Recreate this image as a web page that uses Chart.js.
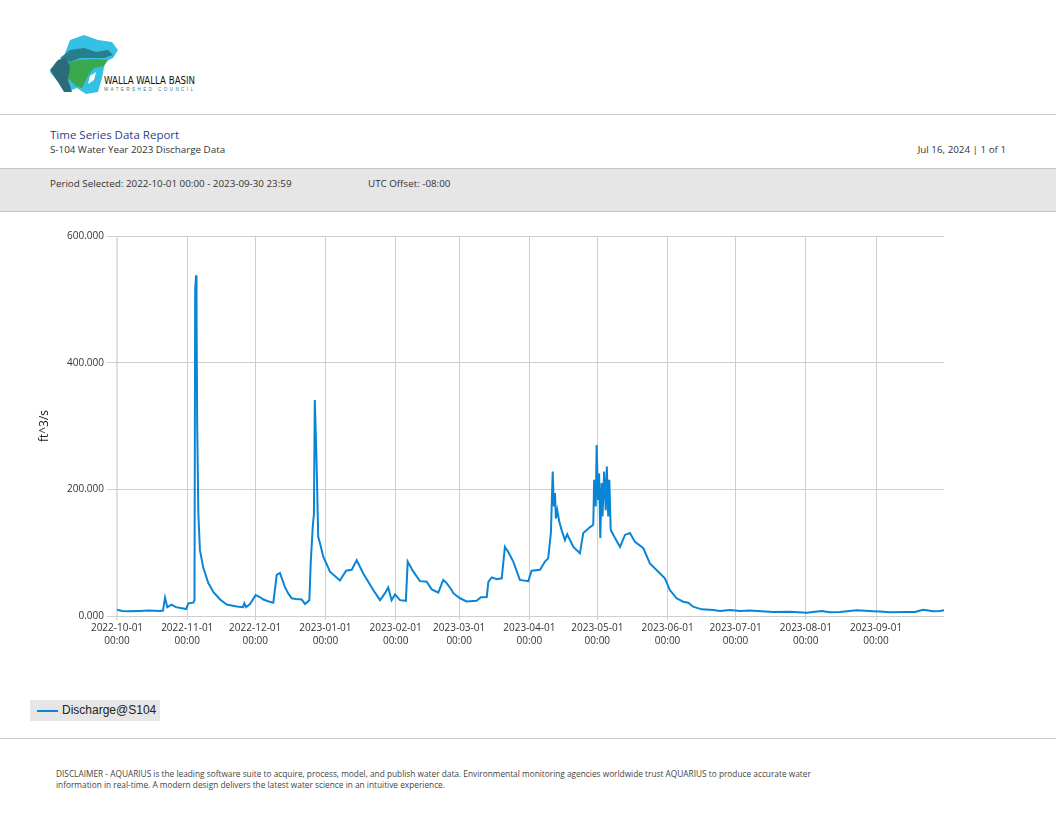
<!DOCTYPE html>
<html>
<head>
<meta charset="utf-8">
<script src="https://cdn.jsdelivr.net/npm/chart.js@4.4.0/dist/chart.umd.min.js"></script>
<style>
  body { margin: 0; width: 1056px; height: 816px; background: #fff; font-family: "Open Sans", sans-serif; color: #333; position: relative; overflow: hidden; }
  .abs { position: absolute; white-space: nowrap; }
  .rule { position: absolute; left: 0; width: 1056px; height: 1px; background: #c8c8c8; }
  #band { position: absolute; left: 0; top: 168px; width: 1056px; height: 42px; background: #e6e6e6; border-top: 1px solid #c4c4c4; border-bottom: 1px solid #c4c4c4; }
  #chartWrap { position: absolute; left: 0; top: 220px; width: 1056px; height: 440px; }
  #legend { position: absolute; left: 30px; top: 700px; width: 130px; height: 21px; background: #e6e6e6; font-family: "Liberation Sans", Arial, sans-serif; font-size: 12px; color: #222; }
  #legend .swatch { position: absolute; left: 7px; top: 10px; width: 21px; height: 2px; background: #0a84d6; }
  #legend .txt { position: absolute; left: 32px; top: 3px; }
  #disclaimer { position: absolute; left: 56px; top: 768px; font-size: 8.3px; line-height: 11px; color: #444; }
</style>
</head>
<body>

<!-- logo -->
<svg class="abs" style="left:44px;top:32px" width="170" height="66" viewBox="44 32 170 66">
  <polygon fill="#35c0e6" points="70,40 84,35 98,40 112,42 118,50 113,58 105,62 102,78 98,92 86,94 77,88 66,92 58,82 50,72 56,62 64,56"/>
  <polygon fill="#2a7d8c" points="60,58 70,50 84,48 96,52 108,50 113,55 104,58 92,58 80,58 70,62"/>
  <polygon fill="#3aa84c" points="64,64 78,60 96,59 108,60 104,66 94,68 88,76 82,88 76,86 70,80 62,74"/>
  <polygon fill="#2e6b78" points="50,70 58,60 66,58 70,66 68,80 72,92 64,92 58,82"/>
  <polygon fill="#ffffff" points="90,76 96,72 94,80 88,84"/>
  <text x="104" y="84" textLength="91" lengthAdjust="spacingAndGlyphs" font-family="DejaVu Sans Condensed, Liberation Sans Narrow, sans-serif" font-size="10" fill="#111">WALLA WALLA BASIN</text>
  <text x="104" y="91" textLength="89" lengthAdjust="spacing" font-family="Liberation Sans, sans-serif" font-size="4.5" fill="#2a7d8c">WATERSHED COUNCIL</text>
</svg>

<div class="rule" style="top:114px"></div>
<div class="abs" style="left:50px;top:127px;font-size:11.5px;color:#1f3f8f">Time Series Data Report</div>
<div class="abs" style="left:50px;top:143px;font-size:9.8px">S-104 Water Year 2023 Discharge Data</div>
<div class="abs" style="right:50px;top:143px;font-size:9.8px">Jul 16, 2024 | 1 of 1</div>

<div id="band"></div>
<div class="abs" style="left:50px;top:177px;font-size:9.8px">Period Selected: 2022-10-01 00:00 - 2023-09-30 23:59</div>
<div class="abs" style="left:368px;top:177px;font-size:9.8px">UTC Offset: -08:00</div>

<div id="chartWrap"><canvas id="dischargeChart" width="1056" height="440"></canvas></div>

<div id="legend"><div class="swatch"></div><div class="txt" id="legendText"></div></div>
<div class="rule" style="top:738px"></div>
<div id="disclaimer">DISCLAIMER - AQUARIUS is the leading software suite to acquire, process, model, and publish water data. Environmental monitoring agencies worldwide trust AQUARIUS to produce accurate water<br>information in real-time. A modern design delivers the latest water science in an intuitive experience.</div>

<script>
// days since 2022-10-01 00:00
const dayOffsets = [
  0, 2.2, 5, 10.2, 14, 19, 20.3, 21.2, 22.2, 24.1, 26, 30.5, 31.5, 33.7, 34.2, 34.5, 34.9, 35.1, 35.4,
  35.9, 36.6, 38.1, 40.3, 42.5, 45.5, 48.4, 52.8, 55.6, 56.2, 56.9, 58.7, 61.2, 63, 64.6, 67, 69,
  70.5, 71.9, 74.1, 75.5, 77.1, 79, 81.5, 83, 84.9, 85.5, 86.4, 86.9, 87.3, 88.1, 88.8, 89.6, 91,
  94, 98.4, 101.1, 103.6, 105.8, 108.7, 113.1, 116.1, 118.3, 119.7, 121.2, 122.7, 124.9, 127.5,
  128.3, 130.8, 133.7, 136.7, 138.9, 141.8, 144, 145.5, 147.7, 148.4, 151.4, 154.3, 158.7, 160.6,
  163.2, 163.9, 165.4, 167.6, 169.8, 171.2, 172.7, 174.9, 177.8, 181.5, 183, 186.7, 188.9, 190.3,
  191.5, 192.3, 192.8, 193.3, 193.7, 194.3, 195.2, 196.2, 197.7, 198.7, 201.4, 204.3, 205.8, 208.7,
  210.2, 210.6, 211.3, 211.7, 212.3, 212.8, 213.3, 213.9, 214.3, 215, 215.7, 216.2, 216.8, 217.3,
  217.9, 219.8, 222, 224.2, 226.4, 228.6, 232.3, 235.2, 238.9, 241.8, 244, 247, 249.9, 252.1,
  254.3, 258, 263.2, 266.1, 270.5, 275, 279.3, 289.6, 297, 304.3, 311, 314.6, 319, 326.4, 333.8,
  336.7, 341, 348.5, 352.2, 355.8, 360.2, 363.2, 365
];
const discharge = [
  10, 8, 7.5, 8, 8.5, 8, 8.5, 29, 14, 18, 14, 11, 20, 21, 25, 515, 538, 478, 300,
  162, 104, 76, 52, 38, 26, 18, 15, 14, 20, 14, 19, 33, 30, 26, 23, 21,
  65, 68, 46, 36, 28, 27, 26, 19, 25, 84, 141, 160, 341, 241, 125, 115, 94,
  70, 56, 71.5, 73, 88, 67, 41, 25, 36, 45, 25, 34, 25, 24,
  86, 70, 55, 54, 42, 37, 57, 52, 41, 36, 28, 23, 24, 29.5,
  30, 54, 61, 58, 59.5, 109, 101, 86, 57, 55, 71.5, 73, 86, 91,
  131, 228, 173, 194, 154, 167, 149, 136, 120, 129, 109, 99, 131, 140,
  144, 215, 173, 270, 183, 225, 123, 210, 157, 228, 167, 236, 157, 215,
  136, 123, 109, 128, 131, 117, 107, 83, 70, 59.5, 41, 28, 22.6, 21,
  14.7, 10.5, 9.5, 8, 9.5, 8, 8.5, 6.3, 6.8, 5.3, 8, 6, 6.3, 9, 7.4,
  7, 6, 6.3, 6.5, 10, 7.4, 8, 9
];
const monthTicks = [0, 31, 61, 92, 123, 151, 182, 212, 243, 273, 304, 335];
const monthLabels = ['2022-10-01', '2022-11-01', '2022-12-01', '2023-01-01', '2023-02-01', '2023-03-01',
  '2023-04-01', '2023-05-01', '2023-06-01', '2023-07-01', '2023-08-01', '2023-09-01'];
const yTicks = [0, 200, 400, 600];
const seriesName = 'Discharge@S104';
const unitLabel = 'ft^3/s';

document.getElementById('legendText').textContent = seriesName;

const tickFont = { family: '"Open Sans", sans-serif', size: 10, lineHeight: 1.3 };

new Chart(document.getElementById('dischargeChart').getContext('2d'), {
  type: 'line',
  data: {
    datasets: [{
      label: seriesName,
      data: dayOffsets.map((d, i) => ({ x: d, y: discharge[i] })),
      borderColor: '#0a84d6',
      borderWidth: 2,
      pointRadius: 0,
      tension: 0,
      fill: false
    }]
  },
  options: {
    responsive: false,
    animation: false,
    devicePixelRatio: 1,
    layout: { padding: { left: 33, right: 112, top: 16, bottom: 0 } },
    plugins: { legend: { display: false }, tooltip: { enabled: false } },
    scales: {
      x: {
        type: 'linear',
        min: 0,
        max: 365,
        afterBuildTicks: (scale) => { scale.ticks = monthTicks.map(v => ({ value: v })); },
        afterFit: (scale) => { scale.height = 44; },
        ticks: {
          autoSkip: false,
          maxRotation: 0,
          padding: 2,
          color: '#333',
          font: tickFont,
          callback: (v) => [monthLabels[monthTicks.indexOf(v)], '00:00']
        },
        grid: {
          color: (ctx) => ctx.index === 0 ? '#e0e0e0' : '#cfcfcf',
          lineWidth: (ctx) => ctx.index === 0 ? 2 : 1,
          tickLength: 4
        },
        border: { display: false }
      },
      y: {
        min: 0,
        max: 600,
        afterBuildTicks: (scale) => { scale.ticks = yTicks.map(v => ({ value: v })); },
        afterFit: (scale) => { scale.width = 84; },
        ticks: {
          padding: 3,
          color: '#333',
          font: tickFont,
          callback: (v) => v.toFixed(3)
        },
        grid: { color: '#cfcfcf', lineWidth: 1, tickLength: 10 },
        border: { display: false },
        title: {
          display: true,
          text: unitLabel,
          color: '#222',
          font: { family: '"Open Sans", sans-serif', size: 12 },
          padding: { top: 4, bottom: 0 }
        }
      }
    }
  }
});
</script>
</body>
</html>
